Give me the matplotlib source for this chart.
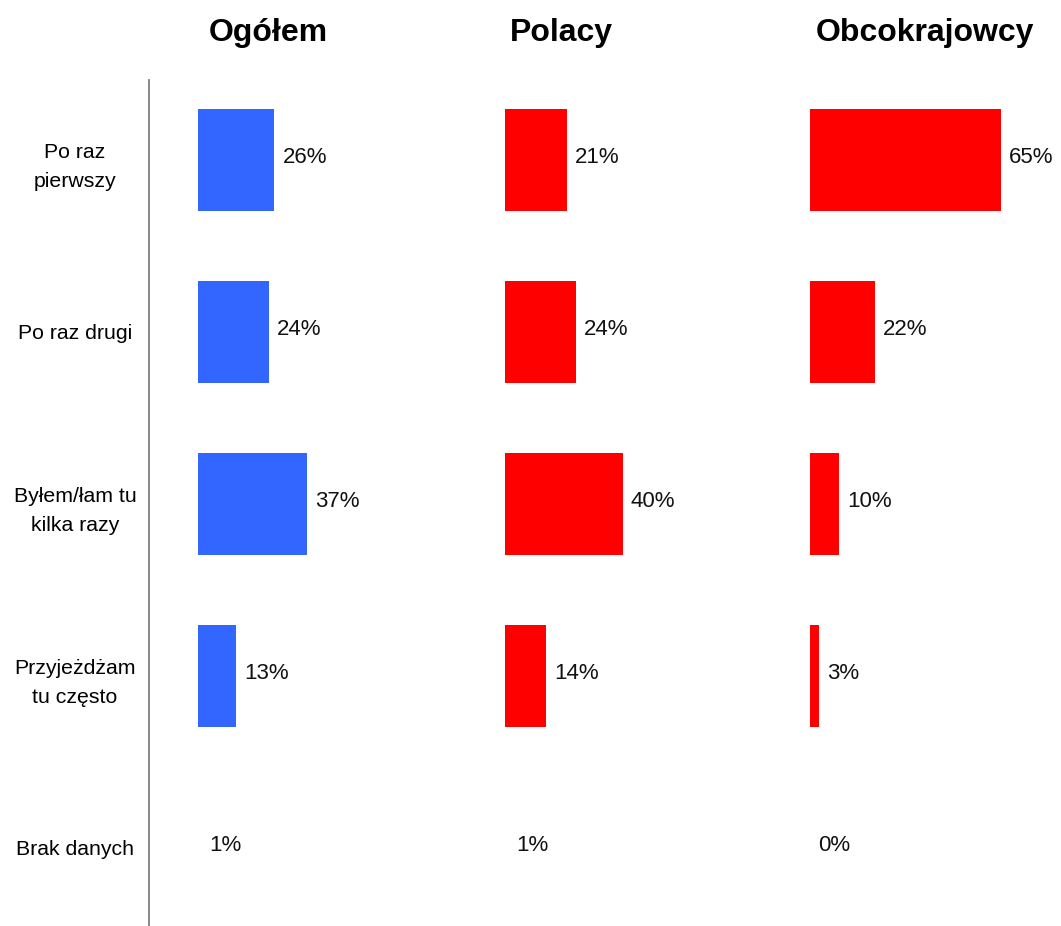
import matplotlib
matplotlib.use("Agg")
import matplotlib.pyplot as plt
from matplotlib.lines import Line2D

plt.rcParams['font.family'] = ['Liberation Sans', 'DejaVu Sans']

categories = ["Po raz\npierwszy", "Po raz drugi", "Byłem/łam tu\nkilka razy",
              "Przyjeżdżam\ntu często", "Brak danych"]
groups = ["Ogółem", "Polacy", "Obcokrajowcy"]
ogolem = [26, 24, 37, 13, 1]
polacy = [21, 24, 40, 14, 1]
obcokrajowcy = [65, 22, 10, 3, 0]
series = [ogolem, polacy, obcokrajowcy]
colors = ["#3366FF", "#FF0000", "#FF0000"]

W, H = 1061, 926
fig = plt.figure(figsize=(W / 100, H / 100), dpi=100)

px_per_pct = 2.94
ax_left_px = [198, 505, 810]
ax_w_px = 250
ax_top_px, ax_bot_px = 80, 926
row0_px, row_step_px = 160, 172
ylim = ((ax_bot_px - row0_px) / row_step_px, (ax_top_px - row0_px) / row_step_px)
bar_h = 102 / row_step_px

title_x_px = [268, 561, 925]

rows = list(range(len(categories)))
for k, (vals, col) in enumerate(zip(series, colors)):
    ax = fig.add_axes([ax_left_px[k] / W, (H - ax_bot_px) / H, ax_w_px / W,
                       (ax_bot_px - ax_top_px) / H])
    for i, v in enumerate(vals):
        visible = i < len(categories) - 1
        ax.barh(i, v, height=bar_h, color=col if visible else "none",
                edgecolor="none", left=0)
        ax.text(v + 8 / px_per_pct, i - 0.015, f"{v}%", va="center", ha="left",
                fontsize=16, color="#111111")
    ax.set_xlim(0, ax_w_px / px_per_pct)
    ax.set_ylim(*ylim)
    for s in ax.spines.values():
        s.set_visible(False)
    ax.set_xticks([])
    if k == 0:
        ax.set_yticks(rows)
        ax.set_yticklabels(categories, fontsize=15.3, ha="center",
                           multialignment="center", linespacing=1.65)
        ax.tick_params(axis="y", length=0, pad=(198 - 75) * 0.72)
    else:
        ax.set_yticks([])
    fig.text(title_x_px[k] / W, 1 - 33 / H, groups[k], ha="center", va="center",
             fontsize=23, fontweight="bold", color="#000000")

fig.add_artist(Line2D([149 / W, 149 / W], [0, 1 - 80 / H], transform=fig.transFigure,
                      color="#7f7f7f", linewidth=1.3))

fig.savefig("out.png", dpi=100, facecolor="white")
